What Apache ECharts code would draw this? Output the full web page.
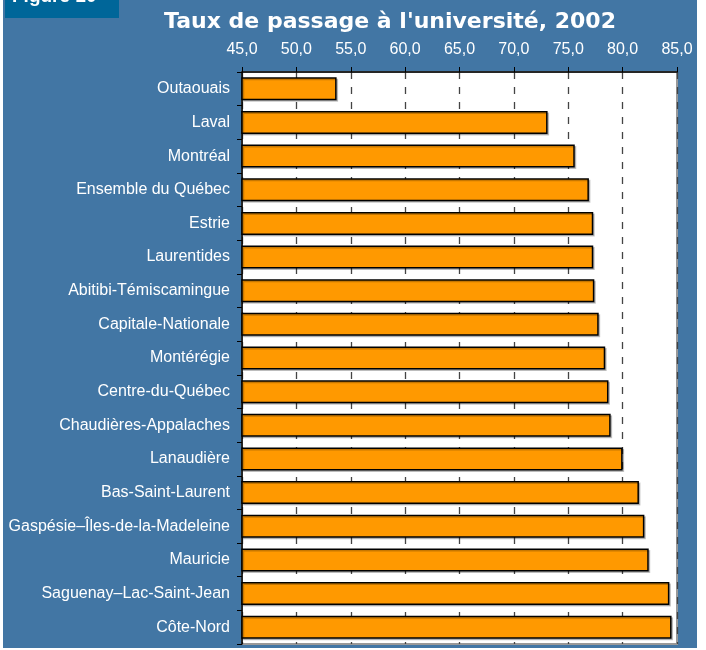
<!DOCTYPE html>
<html>
<head>
<meta charset="utf-8">
<script src="https://cdn.jsdelivr.net/npm/echarts@6/dist/echarts.min.js"></script>
<style>
  html, body { margin: 0; padding: 0; background: #fff; }
  #chart { width: 706px; height: 650px; }
</style>
</head>
<body>
<div id="chart"></div>
<script>
// régions, de haut en bas
const regions = [
  'Outaouais', 'Laval', 'Montréal', 'Ensemble du Québec', 'Estrie',
  'Laurentides', 'Abitibi-Témiscamingue', 'Capitale-Nationale', 'Montérégie',
  'Centre-du-Québec', 'Chaudières-Appalaches', 'Lanaudière', 'Bas-Saint-Laurent',
  'Gaspésie–Îles-de-la-Madeleine', 'Mauricie', 'Saguenay–Lac-Saint-Jean', 'Côte-Nord'
];
// taux de passage (%)
const taux = [
  53.7, 73.1, 75.6, 76.9, 77.3,
  77.3, 77.4, 77.8, 78.4,
  78.7, 78.9, 80.0, 81.5,
  82.0, 82.4, 84.3, 84.5
];
const titre = "Taux de passage à l'université, 2002";
const etiquette = 'Figure 10';

const chart = echarts.init(document.getElementById('chart'));

const option = {
  animation: false,
  backgroundColor: '#fff',
  textStyle: { fontFamily: 'Liberation Sans, Arial, sans-serif' },
  graphic: [
    // fond bleu
    { type: 'rect', z: -10, shape: { x: 3, y: 0, width: 694, height: 648 }, style: { fill: '#4276A4' } },
    // étiquette de la figure
    { type: 'rect', z: -5, shape: { x: 5, y: 0, width: 114, height: 18 }, style: { fill: '#006699' } },
    {
      type: 'text', z: -4, left: 12, top: -13,
      style: { text: etiquette, fill: '#fff', font: 'bold 19px Liberation Sans, Arial, sans-serif' }
    }
  ],
  title: {
    text: titre,
    left: 385,
    textAlign: 'center',
    top: 6,
    textStyle: { color: '#fff', fontSize: 22, fontWeight: 'bold', fontFamily: 'DejaVu Sans, Verdana, sans-serif' }
  },
  grid: {
    left: 242, right: 29, top: 72, bottom: 6,
    show: true, backgroundColor: '#fff', borderColor: '#999', borderWidth: 2
  },
  xAxis: {
    type: 'value',
    position: 'top',
    min: 45, max: 85, interval: 5,
    axisLine: { show: true, lineStyle: { color: '#000', width: 1.5 } },
    axisTick: { show: true, length: 5, lineStyle: { color: '#000' } },
    axisLabel: {
      color: '#fff', fontSize: 16, margin: 14,
      fontFamily: 'Liberation Sans, Arial, sans-serif',
      formatter: v => v.toFixed(1).replace('.', ',')
    },
    splitLine: { show: true, lineStyle: { color: '#444', width: 1.3, type: [7, 8] } }
  },
  yAxis: {
    type: 'category',
    inverse: true,
    data: regions,
    axisLine: { show: true, lineStyle: { color: '#000', width: 1.5 } },
    axisTick: { show: true, length: 5, alignWithLabel: false, lineStyle: { color: '#000' } },
    axisLabel: { color: '#fff', fontSize: 16, margin: 12 },
    splitLine: { show: false }
  },
  series: [{
    type: 'bar',
    data: taux,
    barWidth: 23,
    itemStyle: {
      color: '#FF9900',
      borderColor: '#000',
      borderWidth: 1.5,
      shadowColor: 'rgba(0,0,0,0.22)',
      shadowOffsetX: 1.5,
      shadowOffsetY: 1.5,
      shadowBlur: 0
    }
  }]
};

chart.setOption(option);
</script>
</body>
</html>
